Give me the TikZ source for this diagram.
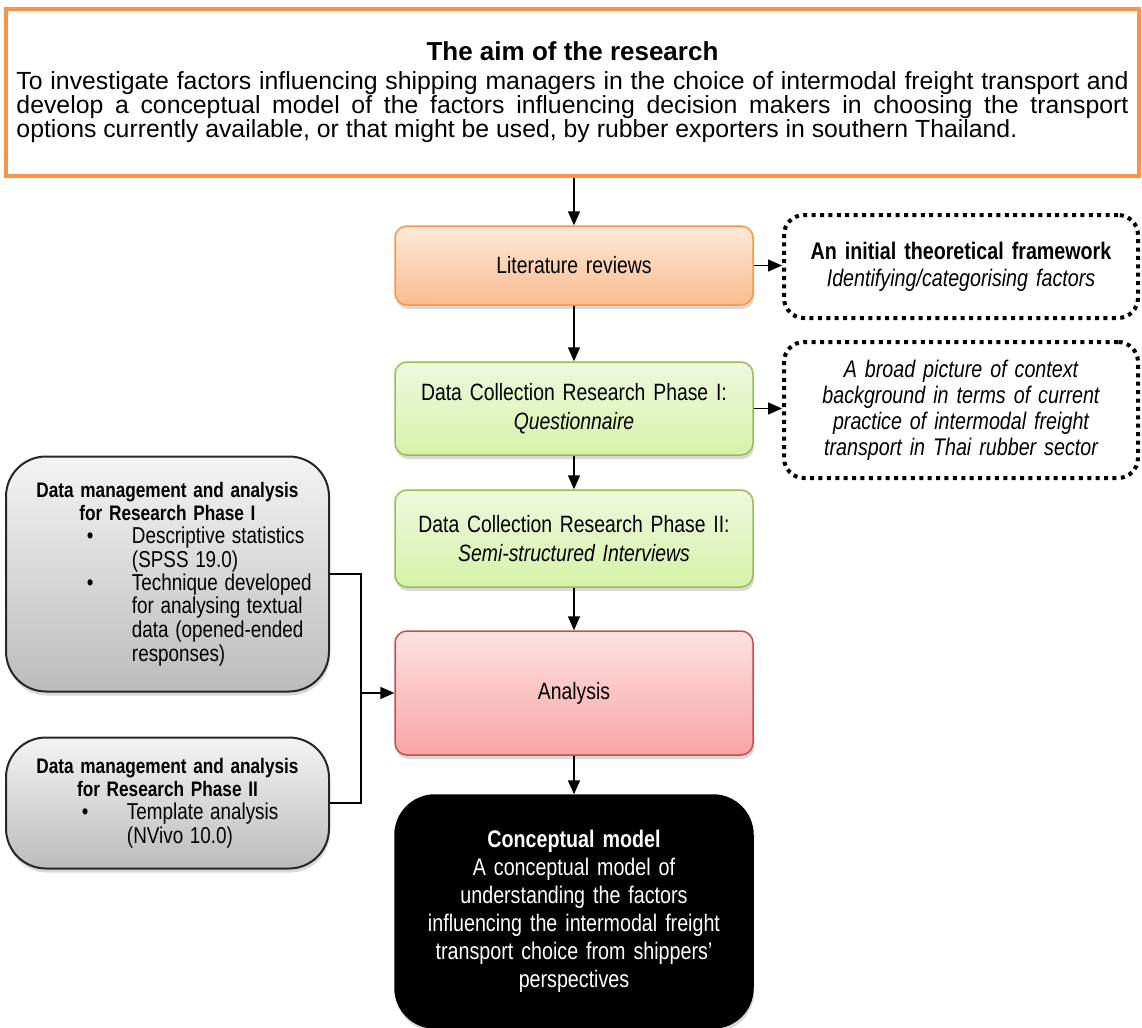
\documentclass[tikz,border=0pt]{standalone}
\usepackage{fontspec}
\setmainfont{Liberation Sans}[FakeStretch=0.82]
\newfontfamily\widefont{Liberation Sans}
\usetikzlibrary{arrows.meta}
\usetikzlibrary{shadows}
\definecolor{aimorange}{RGB}{247,150,70}
\definecolor{litline}{RGB}{247,150,70}
\definecolor{littop}{RGB}{253,234,218}
\definecolor{litbot}{RGB}{250,187,142}
\definecolor{dcline}{RGB}{155,187,89}
\definecolor{dctop}{RGB}{238,248,222}
\definecolor{dcbot}{RGB}{214,243,168}
\definecolor{analine}{RGB}{192,80,77}
\definecolor{anatop}{RGB}{253,226,226}
\definecolor{anabot}{RGB}{250,164,164}
\definecolor{mgtop}{RGB}{244,244,244}
\definecolor{mgbot}{RGB}{188,188,188}

\begin{document}
\begin{tikzpicture}[x=0.5pt, y=-0.5pt,
  conn/.style={line width=0.75pt, -{Triangle[length=7pt, width=6pt]}},
  aimbox/.style={draw=aimorange, line width=2pt, minimum width=566.5pt, minimum height=83.5pt,
    text width=556pt, align=justify, inner sep=0pt, font=\widefont\fontsize{12.4}{12}\selectfont},
  flow/.style={draw, line width=0.75pt, rounded corners=6pt, minimum width=179pt, text width=170pt,
    align=center, inner sep=0pt, font=\fontsize{11.8}{14.5}\selectfont,
    drop shadow={opacity=0.3, shadow xshift=0.5pt, shadow yshift=-2pt}},
  frame/.style={draw, line width=2pt, dash pattern=on 2pt off 2.2pt, rounded corners=10pt,
    minimum width=177pt, text width=165pt, align=center, inner sep=0pt},
  mgmt/.style={draw=black!85, line width=1pt, rounded corners=20pt, top color=mgtop, bottom color=mgbot,
    minimum width=161.5pt, text width=150pt, align=left, inner sep=0pt,
    drop shadow={opacity=0.3, shadow xshift=0.5pt, shadow yshift=-2pt}}]
\useasboundingbox (0,0) rectangle (1142,1028);

\node[aimbox] (aim) at (572.5,92.5) {{\centering\fontsize{13}{15}\selectfont\bfseries The aim of the research\par}\vspace{2.5pt}To investigate factors influencing shipping managers in the choice of intermodal freight transport and\linebreak develop a conceptual model of the factors influencing decision makers in choosing the transport\linebreak options currently available, or that might be used, by rubber exporters in southern Thailand.};

\node[flow, draw=litline, top color=littop, bottom color=litbot, minimum height=39.5pt] (lit) at (574,265.5) {Literature reviews};
\node[flow, draw=dcline, top color=dctop, bottom color=dcbot, minimum height=46.5pt] (dc1) at (574,408.5) {Data Collection Research Phase I:\\\itshape Questionnaire};
\node[flow, draw=dcline, top color=dctop, bottom color=dcbot, minimum height=48.5pt] (dc2) at (574,538.5) {Data Collection Research Phase II:\\\itshape Semi-structured Interviews};
\node[flow, draw=analine, top color=anatop, bottom color=anabot, minimum height=62pt] (ana) at (574,693) {Analysis};
\node[flow, draw=black, fill=black, text=white, rounded corners=20pt, minimum height=116.5pt,
  font=\fontsize{12}{14}\selectfont, drop shadow={opacity=0}] (concept) at (574,911.5)
  {{\bfseries Conceptual model}\\A conceptual model of\\understanding the factors\\influencing the intermodal freight\\transport choice from shippers’\\perspectives};

\node[frame, minimum height=51.5pt, font=\fontsize{12}{13.5}\selectfont] (frame1) at (961,266.5)
  {\bfseries An initial theoretical framework\\\mdseries\itshape Identifying/categorising factors};
\node[frame, minimum height=68pt, font=\itshape\fontsize{12}{13}\selectfont] (frame2) at (961,410)
  {A broad picture of context\\background in terms of current\\practice of intermodal freight\\transport in Thai rubber sector};

\node[mgmt, minimum height=117.5pt] (dm1) at (167.5,574)
  {{\centering\bfseries\fontsize{10.5}{11.5}\selectfont Data management and analysis\\for Research Phase I\par}
  \fontsize{11.5}{11.7}\selectfont
  \hspace*{34.75pt}\makebox[22.5pt][l]{\textbullet}Descriptive statistics\\
  \hspace*{57.25pt}(SPSS 19.0)\\
  \hspace*{34.75pt}\makebox[22.5pt][l]{\textbullet}Technique developed\\
  \hspace*{57.25pt}for analysing textual\\
  \hspace*{57.25pt}data (opened-ended\\
  \hspace*{57.25pt}responses)};
\node[mgmt, minimum height=65.5pt] (dm2) at (167.5,803)
  {{\centering\bfseries\fontsize{10.5}{11.5}\selectfont Data management and analysis\\for Research Phase II\par}
  \fontsize{11.5}{11.7}\selectfont
  \hspace*{32.25pt}\makebox[22.5pt][l]{\textbullet}Template analysis\\
  \hspace*{54.75pt}(NVivo 10.0)};

\coordinate (join) at (361,693);

\draw[conn] (lit.north |- aim.south) -- (lit);
\draw[conn] (lit) -- (dc1);
\draw[conn] (dc1) -- (dc2);
\draw[conn] (dc2) -- (ana);
\draw[conn] (ana) -- (concept);
\draw[conn] (lit.east) -- (lit.east -| frame1.west);
\draw[conn] (dc1.east) -- (dc1.east -| frame2.west);
\draw[line width=0.75pt] (dm1.east) -| (join) |- (dm2.east);
\draw[conn] (join) -- (ana);
\end{tikzpicture}
\end{document}
